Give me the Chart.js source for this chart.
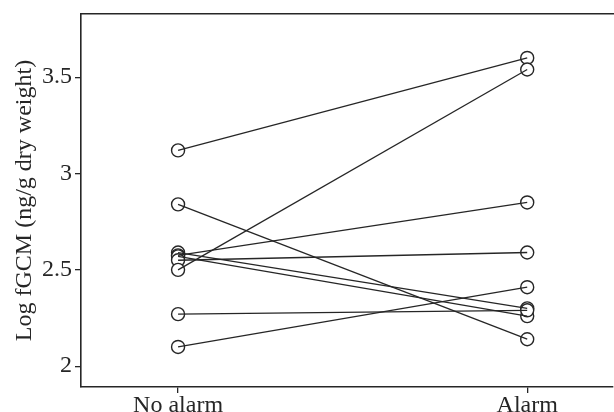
<!DOCTYPE html>
<html lang="en">
<head>
    <meta charset="UTF-8">
    <title>Log fGCM</title>
    <script src="https://cdn.jsdelivr.net/npm/chart.js"></script>
    <style>
        html, body { margin: 0; background: #fff; overflow: hidden; }
        /* a little wider than the window: the chart reserves a few px on the right */
        #wrap { width: 621px; height: 412px; position: relative; }
        canvas { display: block; }
    </style>
</head>
<body>
    <div id="wrap"><canvas id="chart"></canvas></div>

    <script>
        // Data (one entry per individual)
        const categories = ['No alarm', 'Alarm'];
        const noAlarm = [3.12, 2.84, 2.59, 2.575, 2.57, 2.55, 2.50, 2.27, 2.10];
        const alarm   = [3.60, 2.14, 2.30, 2.85, 2.26, 2.59, 3.54, 2.29, 2.41];
        const yTicks  = [2, 2.5, 3, 3.5];

        const ink = '#262626';
        const font = { family: '"Liberation Serif", "Times New Roman", serif', size: 24 };

        // Line for every individual, circles are added last so they sit on top
        const datasets = noAlarm.map((v, i) => ({
            data: [{ x: 0, y: v }, { x: 1, y: alarm[i] }],
            showLine: true,
            borderColor: ink,
            borderWidth: 1.3,
            pointRadius: 0
        }));
        const circles = [];
        noAlarm.forEach((v, i) => {
            circles.push({ x: 0, y: v });
            circles.push({ x: 1, y: alarm[i] });
        });
        datasets.push({
            data: circles,
            showLine: false,
            pointRadius: 6.5,
            pointBorderWidth: 1.4,
            pointBorderColor: ink,
            pointBackgroundColor: '#fff'
        });

        new Chart(document.getElementById('chart'), {
            type: 'scatter',
            data: { datasets: datasets },
            options: {
                responsive: true,
                maintainAspectRatio: false,
                animation: false,
                layout: { padding: { left: 0, right: 1, top: 0, bottom: 0 } },
                plugins: { legend: { display: false }, tooltip: { enabled: false } },
                scales: {
                    x: {
                        type: 'linear',
                        min: -0.278,
                        max: 1.246,
                        afterBuildTicks: axis => { axis.ticks = [0, 1].map(v => ({ value: v })); },
                        afterFit: axis => {
                            axis.height = 25;
                            axis.paddingLeft = 0;
                            axis.paddingRight = 0;
                        },
                        grid: { drawOnChartArea: false, drawTicks: true, tickLength: 6, color: ink, lineWidth: 1.3 },
                        border: { display: true, color: ink, width: 1.6 },
                        ticks: {
                            color: ink,
                            font: font,
                            padding: -2,
                            maxRotation: 0,
                            callback: v => categories[v]
                        }
                    },
                    x2: {
                        type: 'linear',
                        position: 'top',
                        min: -0.278,
                        max: 1.246,
                        afterFit: axis => {
                            axis.height = 14;
                            axis.paddingLeft = 0;
                            axis.paddingRight = 0;
                        },
                        grid: { display: false, drawTicks: false },
                        border: { display: true, color: ink, width: 1.6 },
                        ticks: { display: false }
                    },
                    y: {
                        min: 1.892,
                        max: 3.828,
                        afterBuildTicks: axis => { axis.ticks = yTicks.map(v => ({ value: v })); },
                        afterFit: axis => {
                            axis.width = 81;
                            axis.paddingTop = 0;
                            axis.paddingBottom = 0;
                        },
                        grid: { drawOnChartArea: false, drawTicks: true, tickLength: 6, color: ink, lineWidth: 1.3 },
                        border: { display: true, color: ink, width: 1.6 },
                        ticks: {
                            color: ink,
                            font: font,
                            padding: 3,
                            callback: v => String(v)
                        },
                        title: {
                            display: true,
                            text: 'Log fGCM (ng/g dry weight)',
                            color: ink,
                            font: font,
                            padding: { top: 10, bottom: 0 }
                        }
                    }
                }
            }
        });
    </script>
</body>
</html>
